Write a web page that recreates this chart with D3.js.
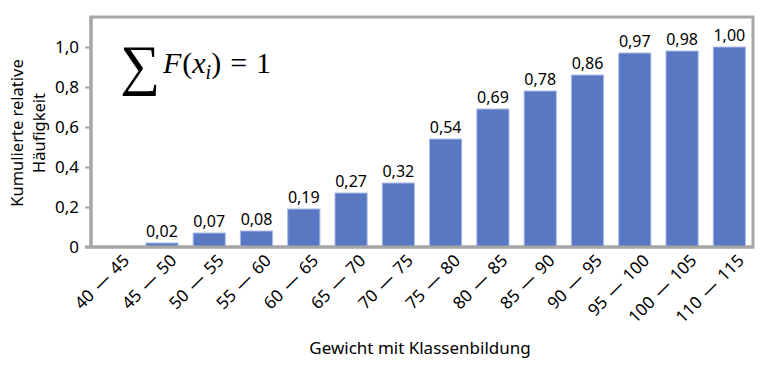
<!DOCTYPE html>
<html>
<head>
<meta charset="utf-8">
<style>
body { margin: 0; background: #fff; }
text { font-family: "Noto Sans", "Open Sans", sans-serif; fill: #000; }
.axis .domain { display: none; }
</style>
</head>
<body>
<svg width="766" height="373"></svg>
<script src="https://cdn.jsdelivr.net/npm/d3@7/dist/d3.min.js"></script>
<script>

var classes = ["40 — 45", "45 — 50", "50 — 55", "55 — 60", "60 — 65", "65 — 70", "70 — 75",
               "75 — 80", "80 — 85", "85 — 90", "90 — 95", "95 — 100", "100 — 105", "110 — 115"];
var cumFreq = [0, 0.02, 0.07, 0.08, 0.19, 0.27, 0.32, 0.54, 0.69, 0.78, 0.86, 0.97, 0.98, 1.00];
var yTicks = [0, 0.2, 0.4, 0.6, 0.8, 1.0];

var data = classes.map(function(c, i) { return {cls: c, value: cumFreq[i]}; });

var svg = d3.select("svg"),
    plotLeft = 91, plotRight = 753, plotTop = 17, plotBottom = 247;

var x = d3.scaleBand()
    .domain(classes)
    .range([plotLeft, plotRight])
    .paddingInner(0.32)
    .paddingOuter(0.16);

var y = d3.scaleLinear()
    .domain([0, 1])
    .range([plotBottom, 47]);

var fmt = function(v) { return v.toFixed(2).replace(".", ","); };

// frame
svg.append("rect")
    .attr("x", plotLeft)
    .attr("y", plotTop)
    .attr("width", plotRight - plotLeft)
    .attr("height", plotBottom - plotTop)
    .attr("fill", "none")
    .attr("stroke", "#a6a6a6")
    .attr("stroke-width", 3);

// bars
svg.append("g")
  .selectAll("rect")
  .data(data)
  .enter().append("rect")
    .attr("x", function(d) { return x(d.cls); })
    .attr("y", function(d) { return y(d.value); })
    .attr("width", x.bandwidth())
    .attr("height", function(d) { return plotBottom - y(d.value); })
    .attr("fill", "#5878c4")
    .attr("stroke", "#a9bbe6")
    .attr("stroke-width", 1);

// value labels (no label for the empty first class)
svg.append("g")
  .selectAll("text")
  .data(data.filter(function(d) { return d.value > 0; }))
  .enter().append("text")
    .attr("x", function(d) { return x(d.cls) + x.bandwidth() / 2; })
    .attr("y", function(d) { return y(d.value) - 6; })
    .attr("text-anchor", "middle")
    .attr("font-size", 16)
    .text(function(d) { return fmt(d.value); });

// y axis
var yAxis = svg.append("g")
    .attr("class", "axis")
    .attr("transform", "translate(" + plotLeft + ",0)")
    .call(d3.axisLeft(y).tickValues(yTicks).tickSize(6).tickPadding(6)
      .tickFormat(function(d) { return d === 0 ? "0" : d.toFixed(1).replace(".", ","); }));
yAxis.selectAll(".tick line").attr("stroke", "#a6a6a6").attr("stroke-width", 2);
yAxis.selectAll(".tick text").attr("font-size", 17).attr("font-family", "Noto Sans, sans-serif").attr("fill", "#000");

// axis lines
svg.append("line")
    .attr("x1", plotLeft - 6).attr("x2", plotRight + 1)
    .attr("y1", plotBottom).attr("y2", plotBottom)
    .attr("stroke", "#a6a6a6").attr("stroke-width", 3);
svg.append("line")
    .attr("x1", plotLeft).attr("x2", plotLeft)
    .attr("y1", plotTop - 1).attr("y2", plotBottom + 1)
    .attr("stroke", "#a6a6a6").attr("stroke-width", 3);

// x labels
svg.append("g")
  .selectAll("text")
  .data(classes)
  .enter().append("text")
    .attr("transform", function(d) {
      return "translate(" + (x(d) + x.bandwidth() / 2 + 7) + "," + (plotBottom + 6) + ") rotate(-45)";
    })
    .attr("text-anchor", "end")
    .attr("dy", "0.72em")
    .attr("font-size", 17)
    .attr("word-spacing", 2)
    .text(function(d) { return d; });

// axis titles
svg.append("text")
    .attr("transform", "translate(23,133) rotate(-90)")
    .attr("text-anchor", "middle")
    .attr("font-size", 16.5)
    .text("Kumulierte relative");
svg.append("text")
    .attr("transform", "translate(45,133) rotate(-90)")
    .attr("text-anchor", "middle")
    .attr("font-size", 16.5)
    .text("Häufigkeit");

svg.append("text")
    .attr("x", 420)
    .attr("y", 354)
    .attr("text-anchor", "middle")
    .attr("font-size", 17)
    .text("Gewicht mit Klassenbildung");

// formula
var f = svg.append("text")
    .attr("x", 120)
    .attr("y", 73)
    .style("font-family", "'Liberation Serif', 'DejaVu Serif', serif");
f.append("tspan").attr("font-size", 56).attr("dy", 11).text("∑");
f.append("tspan").attr("font-size", 30).attr("dy", -11).attr("dx", 3).attr("font-style", "italic").text("F");
f.append("tspan").attr("font-size", 30).attr("dx", 1).text("(");
f.append("tspan").attr("font-size", 30).attr("font-style", "italic").text("x");
f.append("tspan").attr("font-size", 20).attr("font-style", "italic").attr("dy", 6).text("i");
f.append("tspan").attr("font-size", 30).attr("dy", -6).text(")");
f.append("tspan").attr("font-size", 30).attr("dx", 9).text("=");
f.append("tspan").attr("font-size", 30).attr("dx", 9).text("1");

</script>
</body>
</html>
